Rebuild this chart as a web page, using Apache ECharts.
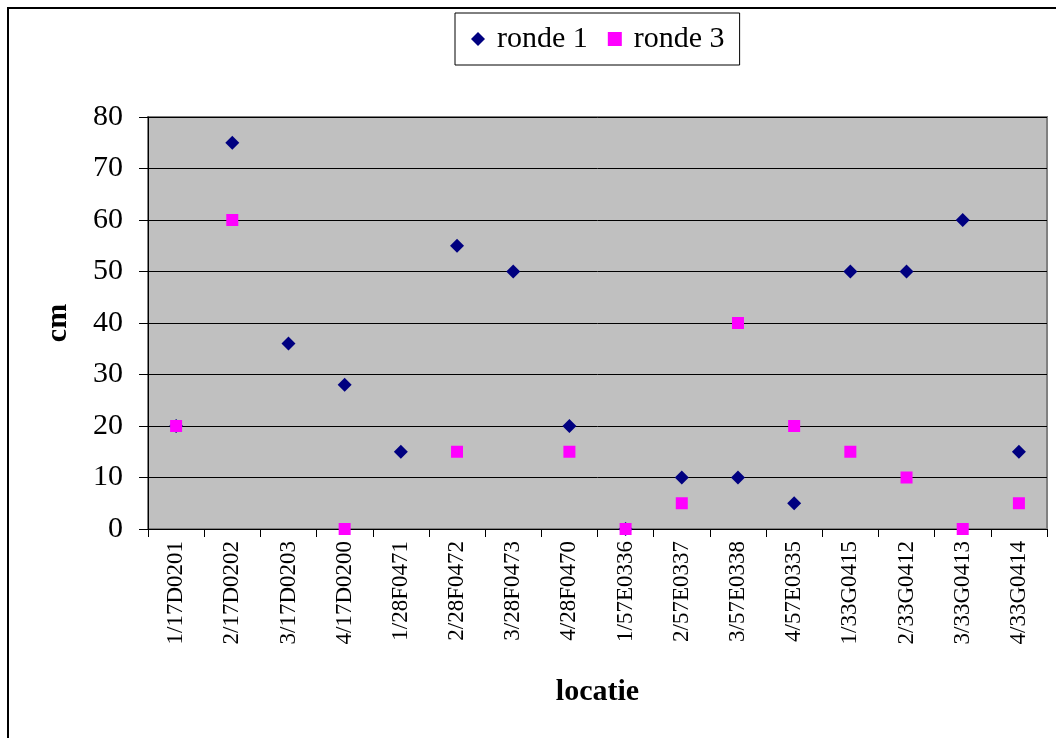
<!DOCTYPE html>
<html>
<head>
<meta charset="utf-8">
<script src="https://cdn.jsdelivr.net/npm/echarts@6/dist/echarts.min.js"></script>
<style>
  html, body { margin: 0; padding: 0; background: #fff; }
  #chart { width: 1056px; height: 738px; }
</style>
</head>
<body>
<div id="chart"></div>
<script>
// Measurement locations (x axis)
const locaties = [
  '1/17D0201', '2/17D0202', '3/17D0203', '4/17D0200',
  '1/28F0471', '2/28F0472', '3/28F0473', '4/28F0470',
  '1/57E0336', '2/57E0337', '3/57E0338', '4/57E0335',
  '1/33G0415', '2/33G0412', '3/33G0413', '4/33G0414'
];
// Values in cm per round (null = no measurement)
const ronde1 = [20, 75, 36, 28, 15, 55, 50, 20, 0, 10, 10, 5, 50, 50, 60, 15];
const ronde3 = [20, 60, null, 0, null, 15, null, 15, 0, 5, 40, 20, 15, 10, 0, 5];
const yTicks = { min: 0, max: 80, interval: 10 };

const serif = '"Liberation Serif", "DejaVu Serif", serif';
const chart = echarts.init(document.getElementById('chart'), null, { renderer: 'canvas' });

chart.setOption({
  backgroundColor: '#ffffff',
  animation: false,
  graphic: [{
    type: 'rect',
    shape: { x: 8, y: 8, width: 1100, height: 800 },
    style: { fill: 'none', stroke: '#000', lineWidth: 2 },
    z: -1
  }],
  legend: {
    left: 455,
    top: 13,
    padding: [11, 15, 11, 16],
    borderColor: '#000',
    borderWidth: 1,
    itemWidth: 14,
    itemHeight: 14,
    itemGap: 20,
    textStyle: { fontFamily: serif, fontSize: 30, color: '#000', padding: [0, 0, 0, 7] },
    data: [
      { name: 'ronde 1', icon: 'diamond' },
      { name: 'ronde 3', icon: 'rect' }
    ]
  },
  grid: {
    left: 148,
    right: 9,
    top: 117,
    bottom: 209,
    show: true,
    backgroundColor: '#C0C0C0',
    borderColor: '#808080',
    borderWidth: 2
  },
  xAxis: {
    type: 'category',
    data: locaties,
    boundaryGap: true,
    name: 'locatie',
    nameLocation: 'middle',
    nameGap: 148,
    nameTextStyle: { fontFamily: serif, fontSize: 30, fontWeight: 'bold', color: '#000' },
    axisLine: { show: true, lineStyle: { color: '#000', width: 1 } },
    axisTick: { show: true, interval: 0, length: 8, lineStyle: { color: '#000' } },
    axisLabel: {
      interval: 0,
      rotate: 90,
      margin: 12,
      fontFamily: serif,
      fontSize: 23,
      color: '#000'
    },
    splitLine: { show: false }
  },
  yAxis: {
    type: 'value',
    min: yTicks.min,
    max: yTicks.max,
    interval: yTicks.interval,
    name: 'cm',
    nameLocation: 'middle',
    nameRotate: 90,
    nameGap: 75,
    nameTextStyle: { fontFamily: serif, fontSize: 30, fontWeight: 'bold', color: '#000' },
    axisLine: { show: true, lineStyle: { color: '#000', width: 1 } },
    axisTick: { show: true, length: 9, lineStyle: { color: '#000' } },
    axisLabel: { margin: 25, fontFamily: serif, fontSize: 30, color: '#000' },
    splitLine: { show: true, lineStyle: { color: '#000', width: 1 } }
  },
  series: [
    {
      name: 'ronde 1',
      type: 'scatter',
      symbol: 'diamond',
      symbolSize: 14,
      itemStyle: { color: '#000080', opacity: 1 },
      data: ronde1,
      z: 2
    },
    {
      name: 'ronde 3',
      type: 'scatter',
      symbol: 'rect',
      symbolSize: 12,
      itemStyle: { color: '#FF00FF', opacity: 1 },
      data: ronde3,
      z: 3
    }
  ]
});
</script>
</body>
</html>
